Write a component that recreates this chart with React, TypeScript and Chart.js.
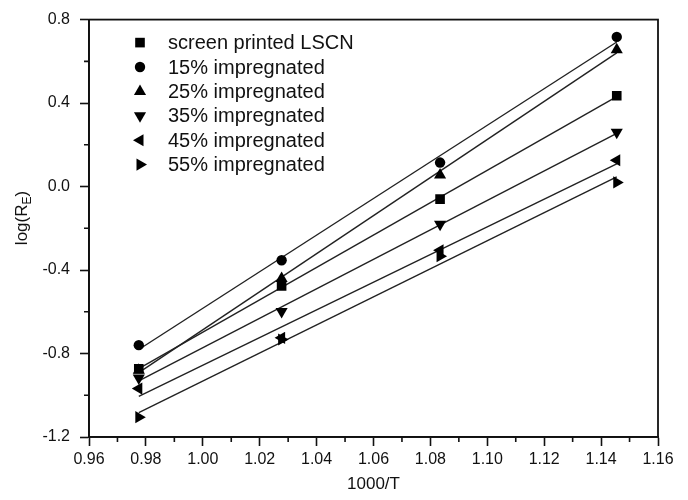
import React, { useEffect, useRef } from 'react';
import { Chart, registerables } from 'chart.js';

Chart.register(...registerables);

const xValues = [0.9775, 1.0277, 1.0834, 1.1455];
const seriesNames = [
  'screen printed LSCN',
  '15% impregnated',
  '25% impregnated',
  '35% impregnated',
  '45% impregnated',
  '55% impregnated',
];
const lscn = [-0.873, -0.476, -0.06, 0.435];
const imp15 = [-0.76, -0.353, 0.115, 0.717];
const imp25 = [-0.88, -0.44, 0.055, 0.655];
const imp35 = [-0.917, -0.599, -0.18, 0.26];
const imp45 = [-0.968, -0.725, -0.305, 0.126];
const imp55 = [-1.105, -0.733, -0.334, 0.02];
const xRange = [0.96, 1.16];
const yRange = [-1.2, 0.8];
const xTitle = '1000/T';

const seriesValues = [lscn, imp15, imp25, imp35, imp45, imp55];
const markerStyles = ['rect', 'circle', 'triangle', 'triangle', 'triangle', 'triangle'];
const markerRotations = [0, 0, 0, 180, 270, 90];
const markerRadius = [6.8, 5.2, 7, 7, 7, 7];

const FONT = '"Liberation Sans", Arial, Helvetica, sans-serif';

function fit(xs: number[], ys: number[]) {
  const n = xs.length;
  const mx = xs.reduce((a, b) => a + b, 0) / n;
  const my = ys.reduce((a, b) => a + b, 0) / n;
  let sxy = 0, sxx = 0;
  for (let i = 0; i < n; i++) {
    sxy += (xs[i] - mx) * (ys[i] - my);
    sxx += (xs[i] - mx) * (xs[i] - mx);
  }
  const b = sxy / sxx;
  const a = my - b * mx;
  const x0 = xs[0], x1 = xs[n - 1];
  return [{ x: x0, y: a + b * x0 }, { x: x1, y: a + b * x1 }];
}

function drawMarker(ctx: CanvasRenderingContext2D, style: string, rot: number, r: number, x: number, y: number) {
  ctx.save();
  ctx.fillStyle = '#000';
  ctx.translate(x, y);
  ctx.rotate((rot * Math.PI) / 180);
  ctx.beginPath();
  if (style === 'rect') {
    const s = Math.SQRT1_2 * r;
    ctx.rect(-s, -s, 2 * s, 2 * s);
  } else if (style === 'circle') {
    ctx.arc(0, 0, r, 0, Math.PI * 2);
  } else {
    const h = r * 1.5;
    const w = (r * 3) / Math.sqrt(3);
    ctx.moveTo(0, -h * (2 / 3));
    ctx.lineTo(w / 2, h / 3);
    ctx.lineTo(-w / 2, h / 3);
    ctx.closePath();
  }
  ctx.fill();
  ctx.restore();
}

const decorPlugin = {
  id: 'decor',
  afterDraw(chart: any) {
    const ctx: CanvasRenderingContext2D = chart.ctx;
    const { left, right, top, bottom } = chart.chartArea;
    const xs = chart.scales.x;
    const ys = chart.scales.y;
    ctx.save();
    // frame
    ctx.strokeStyle = '#111';
    ctx.lineWidth = 1.8;
    ctx.strokeRect(left, top, right - left, bottom - top);
    // minor ticks
    ctx.lineWidth = 1.6;
    ctx.beginPath();
    for (let i = 0; i <= 20; i++) {
      if (i % 2 === 1) {
        const v = xRange[0] + i * 0.01;
        const px = xs.getPixelForValue(v);
        ctx.moveTo(px, bottom);
        ctx.lineTo(px, bottom + 5);
      }
    }
    for (let i = 0; i <= 10; i++) {
      if (i % 2 === 1) {
        const v = yRange[0] + i * 0.2;
        const py = ys.getPixelForValue(v);
        ctx.moveTo(left, py);
        ctx.lineTo(left - 5, py);
      }
    }
    ctx.stroke();
    // x title
    ctx.fillStyle = '#111';
    ctx.font = `17px ${FONT}`;
    ctx.textAlign = 'center';
    ctx.textBaseline = 'middle';
    ctx.fillText(xTitle, (left + right) / 2, 484);
    // y title with subscript
    ctx.save();
    ctx.translate(21, 218);
    ctx.rotate(-Math.PI / 2);
    ctx.textAlign = 'left';
    ctx.textBaseline = 'alphabetic';
    const big = `17px ${FONT}`;
    const small = `12px ${FONT}`;
    ctx.font = big;
    const w1 = ctx.measureText('log(R').width;
    const w3 = ctx.measureText(')').width;
    ctx.font = small;
    const w2 = ctx.measureText('E').width;
    let sx = -(w1 + w2 + w3) / 2;
    const base = 6;
    ctx.font = big;
    ctx.fillText('log(R', sx, base);
    sx += w1;
    ctx.font = small;
    ctx.fillText('E', sx, base + 4);
    sx += w2;
    ctx.font = big;
    ctx.fillText(')', sx, base);
    ctx.restore();
    // legend
    ctx.font = `20px ${FONT}`;
    ctx.textAlign = 'left';
    ctx.textBaseline = 'middle';
    for (let i = 0; i < seriesNames.length; i++) {
      const y = top + 23 + i * 24.4;
      drawMarker(ctx, markerStyles[i], markerRotations[i], markerRadius[i], left + 51, y);
      ctx.fillText(seriesNames[i], left + 79, y + 1);
    }
    ctx.restore();
  },
};

export default function App() {
  const ref = useRef<HTMLCanvasElement | null>(null);
  useEffect(() => {
    if (!ref.current) return;
    const datasets: any[] = [];
    seriesValues.forEach((vals, i) => {
      datasets.push({
        label: seriesNames[i] + ' fit',
        data: fit(xValues, vals),
        showLine: true,
        borderColor: '#222',
        borderWidth: 1.4,
        pointRadius: 0,
        fill: false,
        order: 2,
      });
    });
    seriesValues.forEach((vals, i) => {
      datasets.push({
        label: seriesNames[i],
        data: xValues.map((x, j) => ({ x, y: vals[j] })),
        showLine: false,
        pointStyle: markerStyles[i],
        rotation: markerRotations[i],
        pointRadius: markerRadius[i],
        backgroundColor: '#000',
        borderColor: '#000',
        borderWidth: 0,
        order: 1,
      });
    });
    const chart = new Chart(ref.current, {
      type: 'scatter',
      data: { datasets },
      options: {
        animation: false,
        responsive: false,
        maintainAspectRatio: false,
        layout: { padding: { top: 15, right: 30, left: 0, bottom: 0 } },
        plugins: { legend: { display: false }, tooltip: { enabled: false } },
        scales: {
          x: {
            type: 'linear',
            min: xRange[0],
            max: xRange[1],
            afterFit: (s: any) => { s.height = 63; },
            afterBuildTicks: (s: any) => {
              const t = [];
              for (let i = 0; i <= 10; i++) t.push({ value: +(xRange[0] + i * 0.02).toFixed(2) });
              s.ticks = t;
            },
            ticks: {
              autoSkip: false,
              maxRotation: 0,
              color: '#111',
              padding: 4,
              font: { family: FONT, size: 16 },
              callback: (v: any) => Number(v).toFixed(2),
            },
            grid: { drawOnChartArea: false, drawTicks: true, tickLength: 9, tickColor: '#111', tickWidth: 1.6 },
            border: { display: true, color: '#111', width: 1.8 },
          },
          y: {
            type: 'linear',
            min: yRange[0],
            max: yRange[1],
            afterFit: (s: any) => { s.width = 89; },
            afterBuildTicks: (s: any) => {
              const t = [];
              for (let i = 0; i <= 5; i++) t.push({ value: +(yRange[0] + i * 0.4).toFixed(1) });
              s.ticks = t;
            },
            ticks: {
              color: '#111',
              padding: 10,
              font: { family: FONT, size: 16 },
              callback: (v: any) => Number(v).toFixed(1),
            },
            grid: { drawOnChartArea: false, drawTicks: true, tickLength: 9, tickColor: '#111', tickWidth: 1.6 },
            border: { display: true, color: '#111', width: 1.8 },
          },
        },
      },
      plugins: [decorPlugin],
    } as any);
    return () => chart.destroy();
  }, []);
  return (
    <div style={{ position: 'fixed', left: 0, top: 0, width: 688, height: 500, background: '#fff' }}>
      <canvas ref={ref} width={688} height={500} style={{ width: 688, height: 500 }} />
    </div>
  );
}
